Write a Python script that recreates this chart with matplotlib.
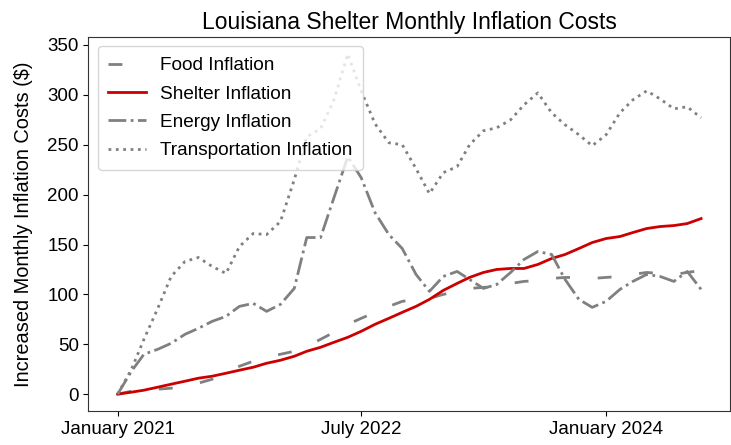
import matplotlib
matplotlib.use("Agg")
import matplotlib.pyplot as plt
import pandas as pd

plt.rcParams['font.family'] = ['Liberation Sans', 'DejaVu Sans']

months = pd.date_range('2021-01-01', periods=44, freq='MS')

food = [0, 3, 5, 5, 6, 9, 11, 15, 22, 28, 33, 37, 40, 43, 48, 55, 62, 70, 76, 82, 88, 93,
        95, 96, 100, 103, 106, 107, 108, 111, 113, 114, 116, 117, 117, 116, 117, 118, 120,
        122, 121, 120, 122, 124]
shelter = [0, 2, 4, 7, 10, 13, 16, 18, 21, 24, 27, 31, 34, 38, 43, 47, 52, 57, 63, 70, 76,
           82, 88, 95, 104, 111, 117, 122, 125, 126, 126, 130, 136, 140, 146, 152, 156, 158,
           162, 166, 168, 169, 171, 176]
energy = [0, 23, 40, 45, 51, 60, 66, 73, 78, 88, 91, 83, 90, 106, 157, 157, 197, 238, 217,
          182, 160, 146, 120, 103, 118, 123, 115, 106, 110, 122, 135, 143, 140, 115, 95, 87,
          93, 105, 113, 120, 118, 113, 123, 105]
transport = [0, 25, 55, 86, 118, 133, 137, 128, 121, 148, 161, 160, 173, 215, 258, 266, 295,
             341, 304, 271, 252, 250, 226, 201, 222, 228, 250, 264, 267, 275, 290, 302, 282,
             270, 260, 249, 260, 282, 295, 304, 296, 286, 288, 277]

tick_dates = pd.to_datetime(['2021-01-01', '2022-07-01', '2024-01-01'])
tick_labels = ['January 2021', 'July 2022', 'January 2024']

fig = plt.figure(figsize=(7.31, 4.45), dpi=100)
ax = fig.add_axes([0.121, 0.076, 0.878, 0.841])

ax.plot(months, food, color='gray', lw=2, linestyle=(0, (5, 10)), label='Food Inflation')
ax.plot(months, shelter, color='#cc0000', lw=2, label='Shelter Inflation')
ax.plot(months, energy, color='gray', lw=2, linestyle='-.', label='Energy Inflation')
ax.plot(months, transport, color='gray', lw=2, linestyle=':', label='Transportation Inflation')

ax.set_xticks(tick_dates)
ax.set_xticklabels(tick_labels)
ax.set_yticks(range(0, 351, 50))
ax.tick_params(labelsize=13.5)
ax.set_ylabel('Increased Monthly Inflation Costs ($)', fontsize=14.4, labelpad=10)
ax.set_title('Louisiana Shelter Monthly Inflation Costs', fontsize=16.5)
for s in ax.spines.values():
    s.set_color('#333333')
ax.legend(loc='upper left', fontsize=13.7, labelspacing=0.58, borderpad=0.55,
          handletextpad=0.7)

fig.savefig('out.png', dpi=100)
